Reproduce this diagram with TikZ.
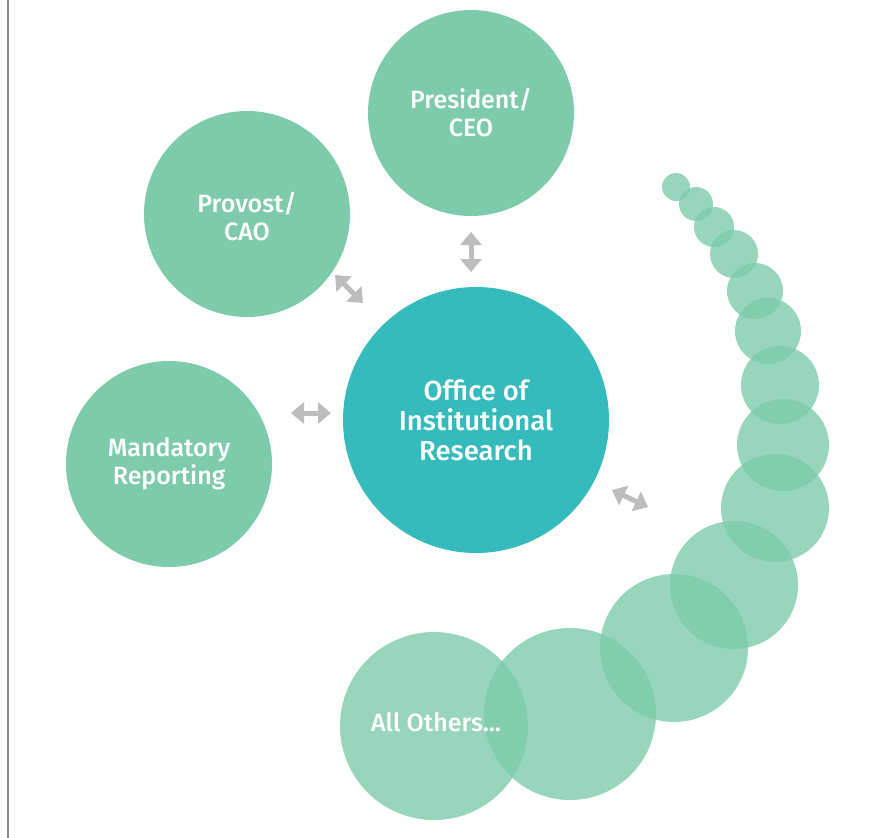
\documentclass[tikz,border=0pt]{standalone}
\usepackage{fontspec}
\setmainfont{Fira Sans}
\newfontfamily\medfont{Fira Sans Medium}
\usetikzlibrary{arrows.meta}
\definecolor{mint}{HTML}{7ECBAC}
\definecolor{teal}{HTML}{36BBBC}
\definecolor{arrowgray}{HTML}{BDBDBD}
\definecolor{rulegray}{HTML}{8C8C8C}
\tikzset{
  labelfont/.style={font=\medfont\fontsize{25}{28}\selectfont},
  maincirc/.style={circle, fill=mint, text=white, align=center, inner sep=0pt, labelfont},
  bubble/.style={circle, fill=mint, fill opacity=0.8, inner sep=0pt},
  dblarrow/.style={draw=arrowgray, line width=5pt, {Triangle[width=21pt,length=13pt]}-{Triangle[width=21pt,length=13pt]}}
}
\begin{document}
\begin{tikzpicture}[x=1pt,y=-1pt]
\useasboundingbox (0,0) rectangle (881,838);
\fill[white] (0,0) rectangle (881,838);
\draw[rulegray, line width=2pt] (8,0) -- (8,838);
% trail of bubbles
\foreach \x/\y/\r [count=\i] in {676/187/14, 696/204/17, 714/227/20, 734/254/24, 755/291/28, 768/331/33, 780/385/39, 783/445/46, 775/508/54, 734/585/64, 674/648/74, 570/714/86}{
  \node[bubble, minimum size=2*\r] (b\i) at (\x,\y) {};
}
\node[bubble, minimum size=188] (others) at (434,726) {};
\node[text=white, labelfont] (otherstext) at (436,722) {All Others...};
% main circles
\node[maincirc, minimum size=206] (ceo) at (471,113) {President/\\CEO};
\node[maincirc, minimum size=206, text depth=0pt] (cao) at (247,214) {};
\node[text=white, align=center, labelfont] (caotext) at (247,217) {Provost/\\CAO};
\node[maincirc, minimum size=206] (mand) at (169,464) {Mandatory\\Reporting};
\node[circle, fill=teal, text=white, align=center, inner sep=0pt, minimum size=266, font=\medfont\fontsize{27.5}{30}\selectfont] (oir) at (476,420) {Office of\\Institutional\\Research};
% arrows
\coordinate (a1s) at (471,232); \coordinate (a1e) at (471,272);
\coordinate (a2s) at (335,275); \coordinate (a2e) at (363,303);
\coordinate (a3s) at (291,413); \coordinate (a3e) at (331,413);
\coordinate (a4s) at (612,490); \coordinate (a4e) at (648,507);
\draw[dblarrow] (a1s) -- (a1e);
\draw[dblarrow] (a2s) -- (a2e);
\draw[dblarrow] (a3s) -- (a3e);
\draw[dblarrow] (a4s) -- (a4e);
\end{tikzpicture}
\end{document}
